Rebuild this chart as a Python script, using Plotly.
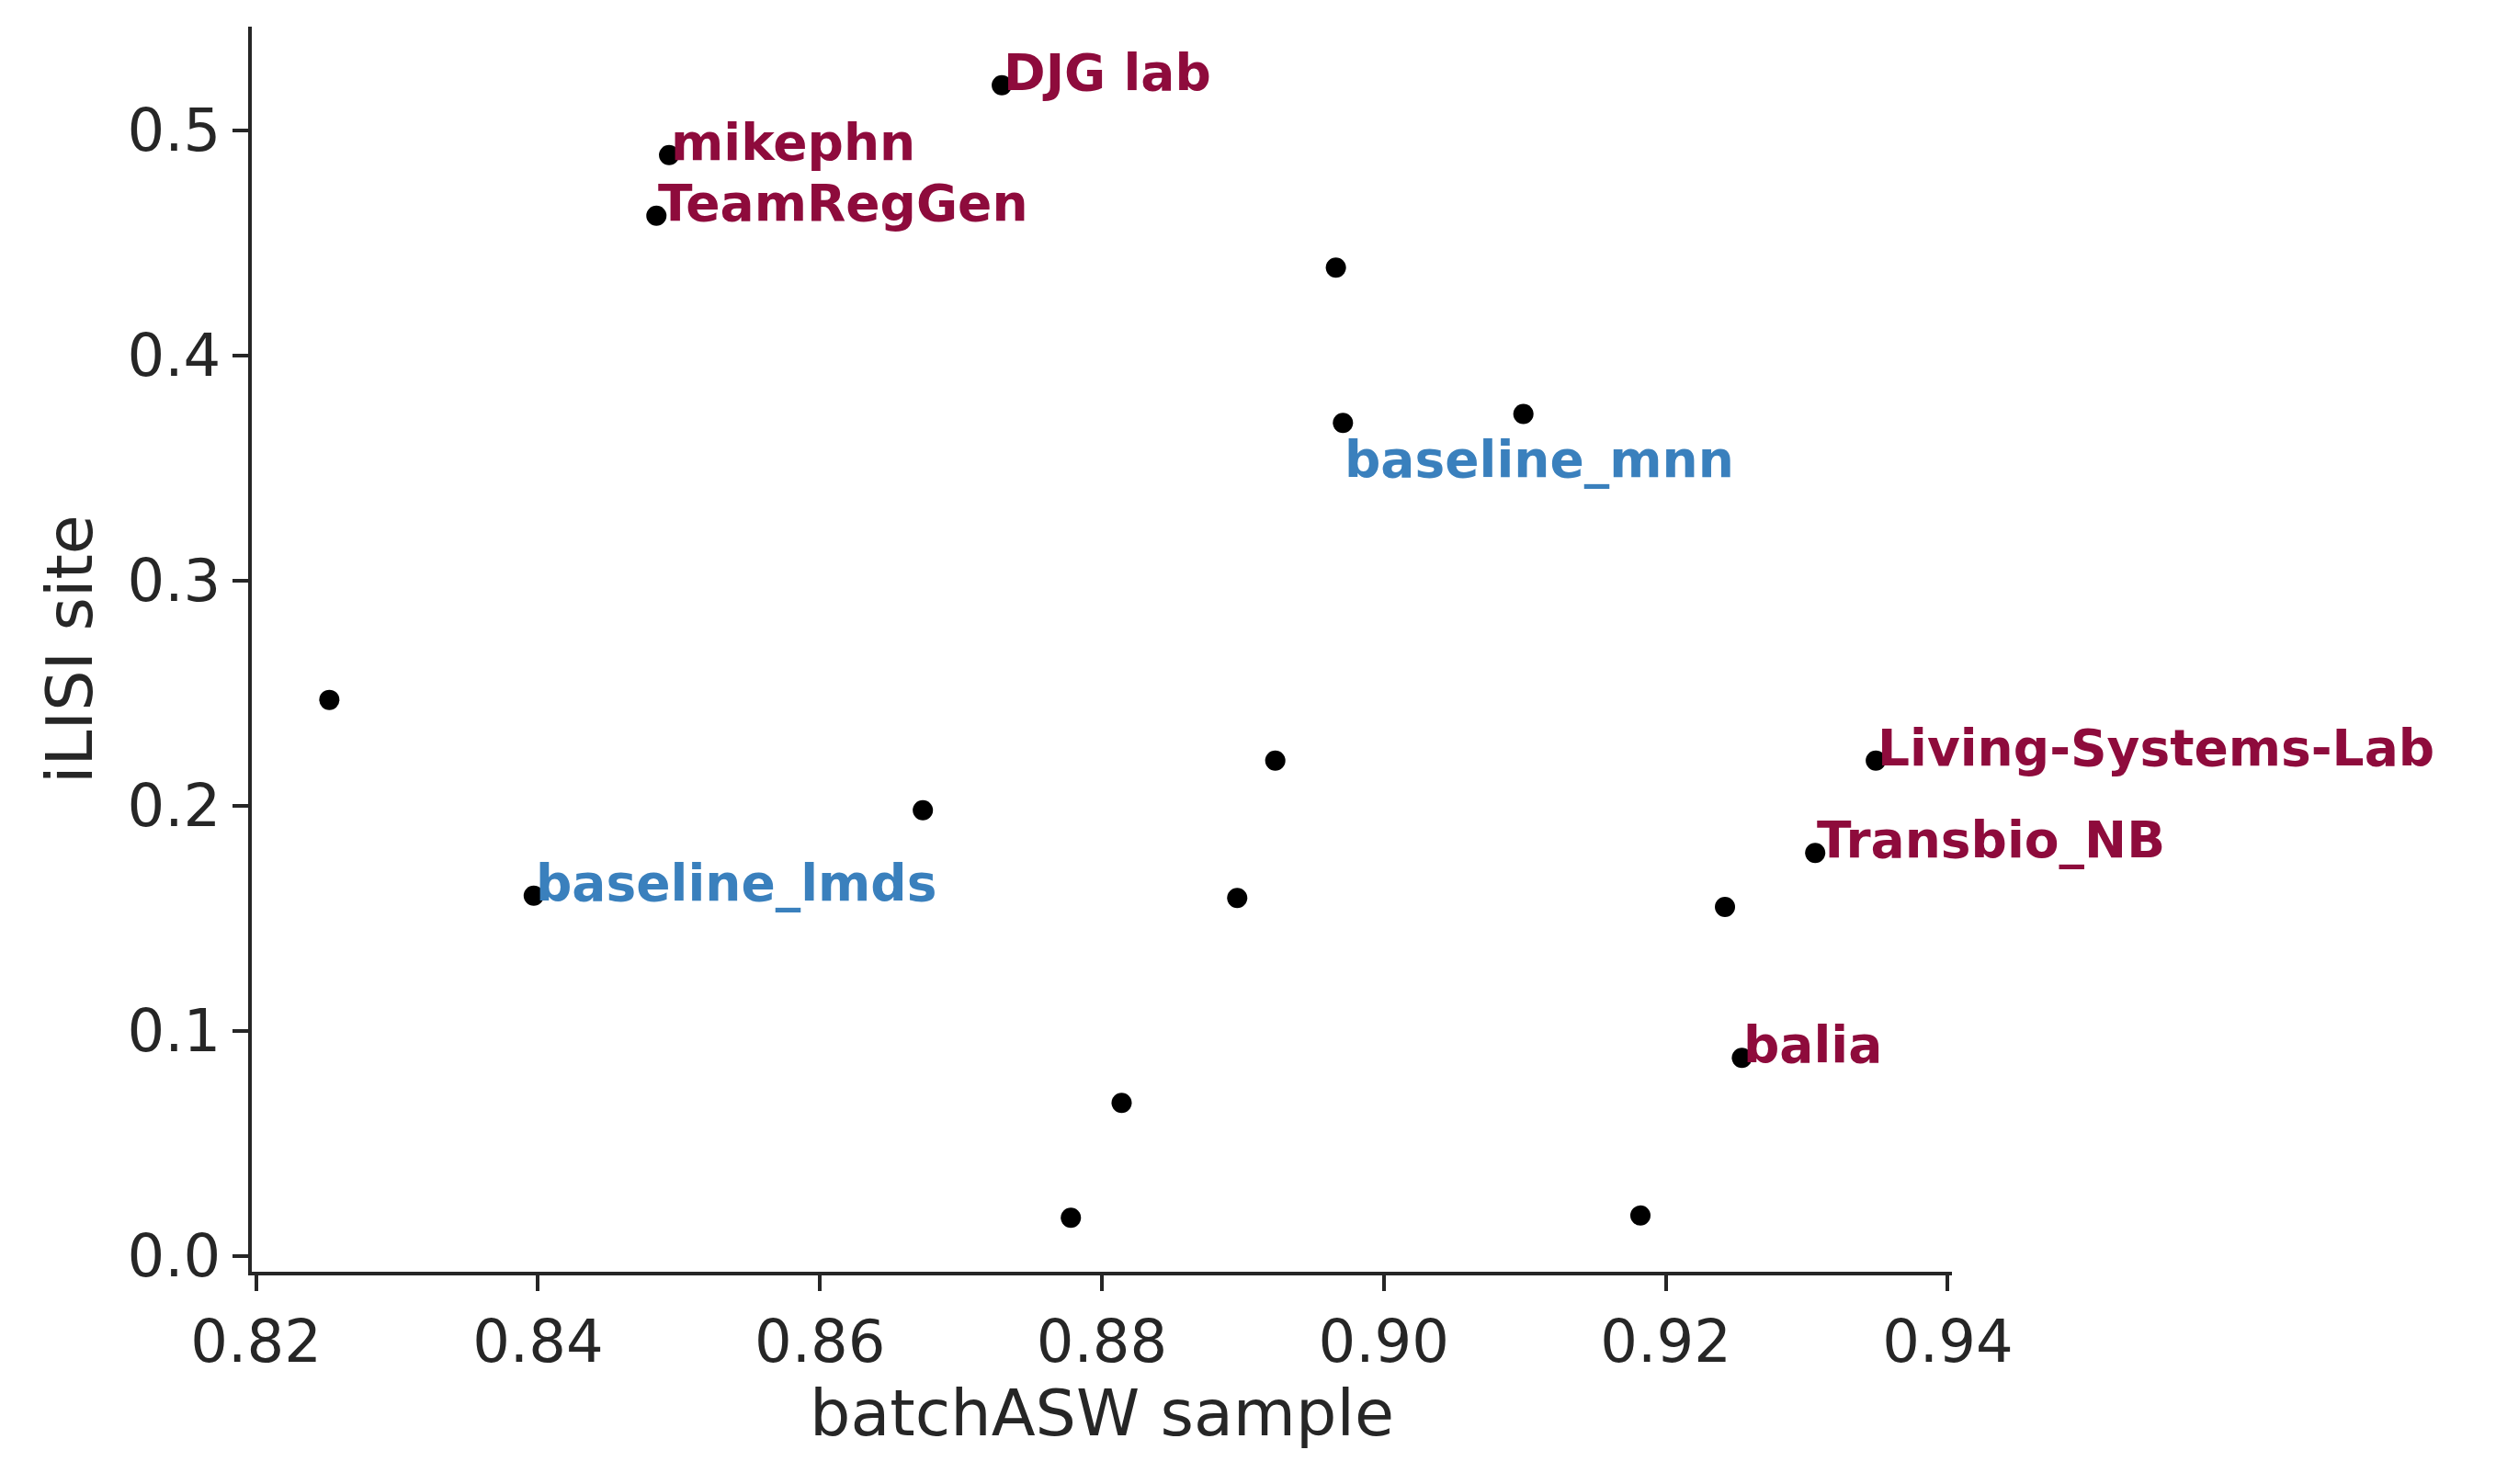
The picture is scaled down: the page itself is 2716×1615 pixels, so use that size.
import plotly.graph_objects as go

x_vals = [0.8252, 0.8397, 0.8484, 0.8493, 0.8673, 0.8729, 0.8778, 0.8814, 0.8896,
          0.8923, 0.8966, 0.8971, 0.9099, 0.9182, 0.9242, 0.9254, 0.9306, 0.9349]
y_vals = [0.247, 0.160, 0.462, 0.489, 0.198, 0.520, 0.017, 0.068, 0.159,
          0.220, 0.439, 0.370, 0.374, 0.018, 0.155, 0.088, 0.179, 0.220]

label_names = ["baseline_lmds", "TeamRegGen", "mikephn", "DJG lab", "baseline_mnn",
               "balia", "Transbio_NB", "Living-Systems-Lab"]
label_x = [0.8397, 0.8484, 0.8493, 0.8729, 0.8971, 0.9254, 0.9306, 0.9349]
label_y = [0.160, 0.462, 0.489, 0.520, 0.370, 0.088, 0.179, 0.220]
label_kind = ["baseline", "team", "team", "team", "baseline", "team", "team", "team"]

RED = "#8E0B3C"
BLUE = "#3A80BD"
INK = "#262626"

fig = go.Figure()
fig.add_trace(go.Scatter(x=x_vals, y=y_vals, mode="markers",
                         marker=dict(color="black", size=22), showlegend=False))

for name, lx, ly, kind in zip(label_names, label_x, label_y, label_kind):
    below = name == "baseline_mnn"
    fig.add_annotation(x=lx, y=ly, text=f"<b>{name}</b>", showarrow=False,
                       xanchor="left", yanchor="middle", xshift=0,
                       yshift=-40 if below else 14,
                       font=dict(size=55, color=BLUE if kind == "baseline" else RED,
                                 family="DejaVu Sans"))

axis_common = dict(showline=True, linecolor=INK, linewidth=4, ticks="outside",
                   ticklen=17, tickwidth=4, tickcolor=INK, showgrid=False, zeroline=False,
                   tickfont=dict(size=64, color=INK), mirror=False)

fig.update_xaxes(range=[0.8197, 0.9403], tickvals=[0.82, 0.84, 0.86, 0.88, 0.90, 0.92, 0.94],
                 ticktext=["0.82", "0.84", "0.86", "0.88", "0.90", "0.92", "0.94"],
                 title=dict(text="batchASW sample", font=dict(size=70, color=INK), standoff=16),
                 **axis_common)
fig.update_yaxes(range=[-0.007, 0.546], tickvals=[0, 0.1, 0.2, 0.3, 0.4, 0.5],
                 ticktext=["0.0", "0.1", "0.2", "0.3", "0.4", "0.5"],
                 title=dict(text="iLISI site", font=dict(size=70, color=INK), standoff=16),
                 **axis_common)

fig.update_layout(width=2716, height=1615, plot_bgcolor="white", paper_bgcolor="white",
                  font=dict(family="DejaVu Sans", color=INK),
                  margin=dict(l=266, r=600, t=21, b=239))
fig.write_html("out.html")
